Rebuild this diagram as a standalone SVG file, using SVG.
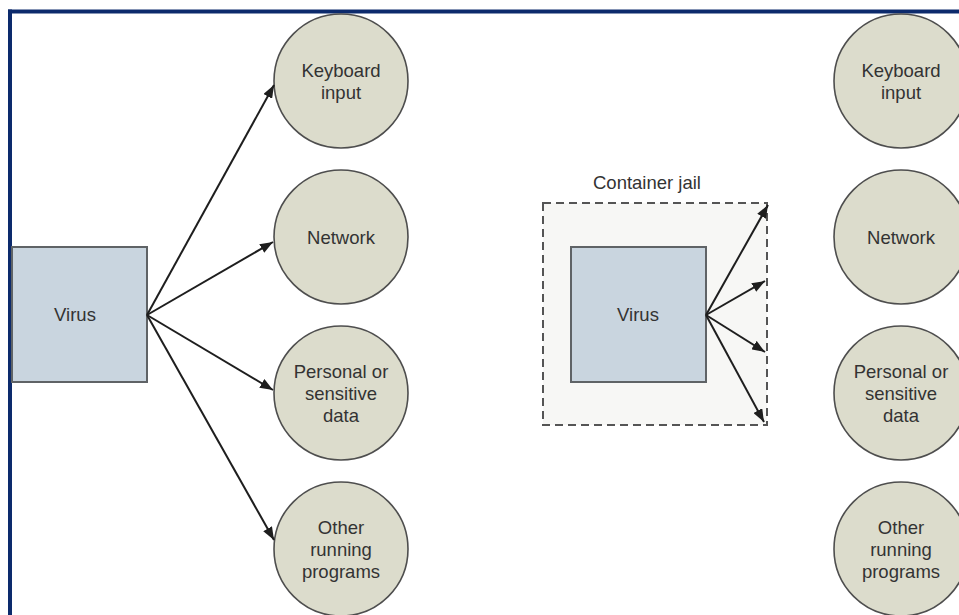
<svg xmlns="http://www.w3.org/2000/svg" width="959" height="615" viewBox="0 0 959 615">
<style>
.box{fill:#c9d5df;stroke:#5f6366;stroke-width:2}
.circ{fill:#dcdccc;stroke:#4e4e4e;stroke-width:1.6}
.t{font-family:"Liberation Sans",Arial,sans-serif;font-size:18.5px;fill:#333;text-anchor:middle}
.arr{stroke:#1e1e1e;stroke-width:2;fill:none;marker-end:url(#ah)}
</style>
<defs>
<marker id="ah" markerUnits="userSpaceOnUse" markerWidth="14" markerHeight="10" refX="13" refY="5" orient="auto">
<path d="M0,0 L13,5 L0,10 Z" fill="#1e1e1e"/>
</marker>
</defs>
<rect width="959" height="615" fill="#fff"/>
<g id="frame">
<line x1="10" y1="9.5" x2="10" y2="615" stroke="#0c2a6c" stroke-width="4"/>
<line x1="8" y1="11.5" x2="959" y2="11.5" stroke="#0c2a6c" stroke-width="4"/>
</g>
<g id="jail">
<rect x="543" y="203" width="224" height="222" fill="#f7f7f5" stroke="#555" stroke-width="2" stroke-dasharray="8,5"/>
<text class="t" x="647" y="189">Container jail</text>
</g>
<g id="virus-left">
<rect class="box" x="12" y="247" width="135" height="135"/>
<text class="t" x="75" y="321">Virus</text>
</g>
<g id="virus-jail">
<rect class="box" x="571" y="247" width="135" height="135"/>
<text class="t" x="638" y="321">Virus</text>
</g>
<g id="kb-left"><circle class="circ" cx="341" cy="81" r="67"/><text class="t" x="341" y="77">Keyboard</text><text class="t" x="341" y="99">input</text></g>
<g id="net-left"><circle class="circ" cx="341" cy="237" r="67"/><text class="t" x="341" y="244">Network</text></g>
<g id="data-left"><circle class="circ" cx="341" cy="393" r="67"/><text class="t" x="341" y="378">Personal or</text><text class="t" x="341" y="400">sensitive</text><text class="t" x="341" y="422">data</text></g>
<g id="prog-left"><circle class="circ" cx="341" cy="549" r="67"/><text class="t" x="341" y="534">Other</text><text class="t" x="341" y="556">running</text><text class="t" x="341" y="578">programs</text></g>
<g id="kb-right"><circle class="circ" cx="901" cy="81" r="67"/><text class="t" x="901" y="77">Keyboard</text><text class="t" x="901" y="99">input</text></g>
<g id="net-right"><circle class="circ" cx="901" cy="237" r="67"/><text class="t" x="901" y="244">Network</text></g>
<g id="data-right"><circle class="circ" cx="901" cy="393" r="67"/><text class="t" x="901" y="378">Personal or</text><text class="t" x="901" y="400">sensitive</text><text class="t" x="901" y="422">data</text></g>
<g id="prog-right"><circle class="circ" cx="901" cy="549" r="67"/><text class="t" x="901" y="534">Other</text><text class="t" x="901" y="556">running</text><text class="t" x="901" y="578">programs</text></g>
<g id="connectors">
<line class="arr" x1="147" y1="315" x2="274" y2="85"/>
<line class="arr" x1="147" y1="315" x2="273" y2="242"/>
<line class="arr" x1="147" y1="315" x2="273" y2="390"/>
<line class="arr" x1="147" y1="315" x2="274" y2="540"/>
<line class="arr" x1="706" y1="315" x2="768" y2="205"/>
<line class="arr" x1="706" y1="315" x2="765" y2="281"/>
<line class="arr" x1="706" y1="315" x2="765" y2="352"/>
<line class="arr" x1="706" y1="315" x2="764" y2="422"/>
</g>
</svg>
